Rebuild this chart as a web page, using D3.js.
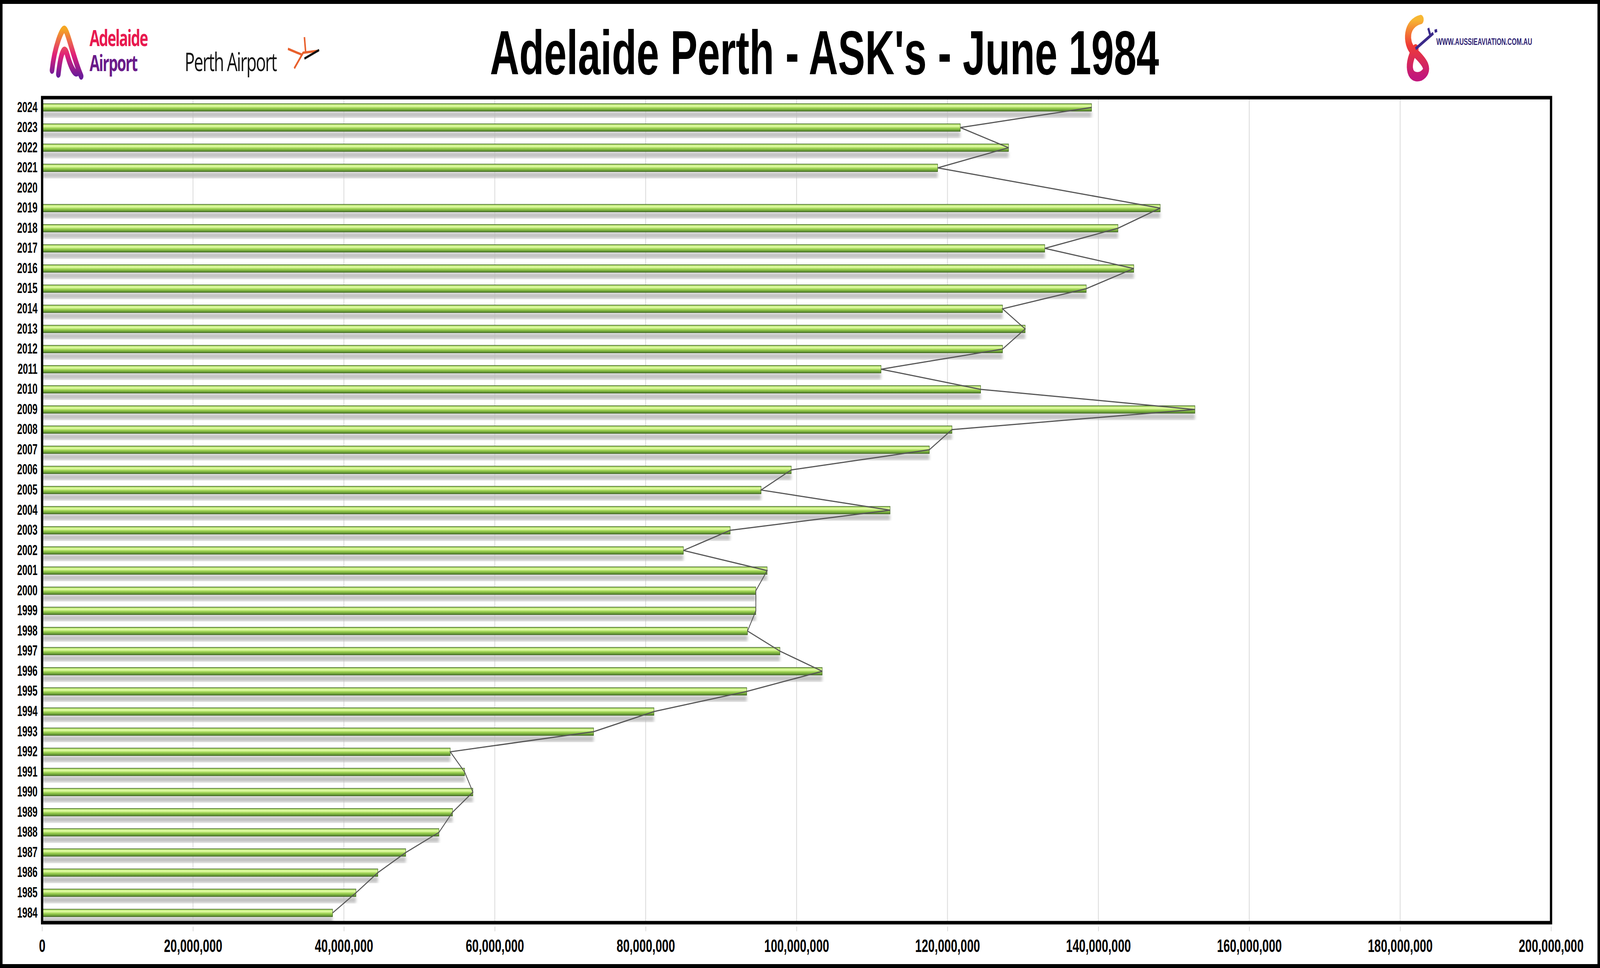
<!DOCTYPE html>
<html><head><meta charset="utf-8">
<script src="https://cdn.jsdelivr.net/npm/d3@7"></script>
<style>html,body{margin:0;padding:0;background:#fff;overflow:hidden}svg{display:block}</style>
</head><body>
<div id="chart"></div>
<script>
const years = d3.range(2024, 1983, -1)
const ask = [139.1, 121.7, 128.1, 118.7, 0, 148.2, 142.6, 132.9, 144.7, 138.4,
  127.3, 130.3, 127.3, 111.2, 124.4, 152.8, 120.6, 117.6, 99.3, 95.3,
  112.4, 91.2, 85.0, 96.1, 94.6, 94.6, 93.5, 97.8, 103.4, 93.4,
  81.1, 73.1, 54.1, 56.0, 57.1, 54.4, 52.6, 48.2, 44.5, 41.6, 38.5].map(v => v * 1e6)
const xTicks = d3.range(0, 200000001, 20000000)
const title = "Adelaide Perth - ASK's - June 1984"

const W = 6307, H = 2478
const plot = { left: 166, right: 6114, top: 250, bottom: 2362 }
const data = years.map((y, i) => ({ year: y, value: ask[i] }))

const svg = d3.select("#chart").append("svg")
  .attr("width", "100vw").attr("height", "100vh")
  .attr("viewBox", `0 0 ${W} ${H}`).attr("preserveAspectRatio", "none")
const defs = svg.append("defs")
const grad = defs.append("linearGradient").attr("id", "bar").attr("x1", 0).attr("y1", 0).attr("x2", 0).attr("y2", 1)
grad.append("stop").attr("offset", "0%").attr("stop-color", "#9fd35a")
grad.append("stop").attr("offset", "30%").attr("stop-color", "#e6ffa8")
grad.append("stop").attr("offset", "60%").attr("stop-color", "#9ad04f")
grad.append("stop").attr("offset", "100%").attr("stop-color", "#4f7f2a")
defs.append("filter").attr("id", "blur").append("feGaussianBlur").attr("stdDeviation", 5)

// outer frame
svg.append("rect").attr("x", 5).attr("y", 5).attr("width", W - 10).attr("height", H - 10)
  .attr("fill", "#fff").attr("stroke", "#000").attr("stroke-width", 10)

const x = d3.scaleLinear().domain([0, 200000000]).range([plot.left, plot.right])
const y = d3.scaleBand().domain(years).range([plot.top, plot.bottom]).paddingInner(0.63).paddingOuter(0.3)

// grid
svg.append("g").selectAll("line").data(xTicks.slice(1, -1)).join("line")
  .attr("x1", d => x(d)).attr("x2", d => x(d)).attr("y1", plot.top).attr("y2", plot.bottom)
  .attr("stroke", "#d9d9d9").attr("stroke-width", 3)

// shadows
svg.append("g").selectAll("rect").data(data.filter(d => d.value > 0)).join("rect")
  .attr("x", plot.left).attr("y", d => y(d.year) + y.bandwidth() + 2)
  .attr("width", d => x(d.value) - plot.left).attr("height", 14)
  .attr("fill", "#bbb").attr("filter", "url(#blur)")

// bars
svg.append("g").selectAll("rect").data(data.filter(d => d.value > 0)).join("rect")
  .attr("x", plot.left).attr("y", d => y(d.year))
  .attr("width", d => x(d.value) - plot.left).attr("height", y.bandwidth())
  .attr("fill", "url(#bar)").attr("stroke", "#3d6020").attr("stroke-width", 1.5)

// connecting line through bar ends (2020 has no value, so it is skipped)
svg.append("path").datum(data.filter(d => d.value > 0))
  .attr("d", d3.line().x(d => x(d.value)).y(d => y(d.year) + y.bandwidth() / 2))
  .attr("fill", "none").attr("stroke", "#555").attr("stroke-width", 3)

// plot frame
svg.append("rect").attr("x", plot.left).attr("y", plot.top)
  .attr("width", plot.right - plot.left).attr("height", plot.bottom - plot.top)
  .attr("fill", "none").attr("stroke", "#000").attr("stroke-width", 9)

// axes
const font = "'Liberation Sans Narrow', 'Arial Narrow', sans-serif"
const yAxis = svg.append("g").attr("transform", `translate(${plot.left - 12},0)`)
  .call(d3.axisLeft(y).tickSize(0).tickPadding(6))
yAxis.select(".domain").remove()
yAxis.selectAll("text").attr("font-family", font).attr("font-weight", "bold")
  .attr("font-size", 36).attr("fill", "#000")

const xAxis = svg.append("g").attr("transform", `translate(0,${plot.bottom + 10})`)
  .call(d3.axisBottom(x).tickValues(xTicks).tickFormat(d3.format(",")).tickSize(12).tickPadding(20))
xAxis.select(".domain").remove()
xAxis.selectAll("line").attr("stroke", "#d9d9d9").attr("stroke-width", 3)
xAxis.selectAll("text").attr("font-family", font).attr("font-weight", "bold")
  .attr("font-size", 46).attr("fill", "#000")

// title
svg.append("text").attr("x", 3250).attr("y", 190).attr("text-anchor", "middle")
  .attr("font-family", font).attr("font-weight", "bold").attr("font-size", 160)
  .attr("fill", "#000").text(title)

// logos (approximate)
const lg = svg.append("g")
const ag = defs.append("linearGradient").attr("id", "adl").attr("x1", 0).attr("y1", 0).attr("x2", 0).attr("y2", 1)
ag.append("stop").attr("offset", "0%").attr("stop-color", "#f5a623")
ag.append("stop").attr("offset", "55%").attr("stop-color", "#e0207a")
ag.append("stop").attr("offset", "100%").attr("stop-color", "#6a1b9a")
lg.append("path").attr("d", "M205,180 C215,120 245,70 255,75 C268,80 290,150 320,195 M230,190 C240,130 255,115 265,140 C280,175 300,200 310,180")
  .attr("fill", "none").attr("stroke", "url(#adl)").attr("stroke-width", 18).attr("stroke-linecap", "round")
lg.append("text").attr("x", 353).attr("y", 118).attr("font-family", "'Open Sans', sans-serif")
  .attr("font-weight", "bold").attr("font-size", 58).attr("fill", "#e8194f").attr("letter-spacing", -3).text("Adelaide")
lg.append("text").attr("x", 353).attr("y", 182).attr("font-family", "'Open Sans', sans-serif")
  .attr("font-weight", "bold").attr("font-size", 58).attr("fill", "#6a1b8a").attr("letter-spacing", -3).text("Airport")
lg.append("text").attr("x", 728).attr("y", 182).attr("font-family", "'Open Sans', sans-serif")
  .attr("font-size", 66).attr("fill", "#111").attr("letter-spacing", -3).text("Perth Airport")
lg.append("path").attr("d", "M1160,175 L1195,135 L1255,130 M1200,95 L1205,135 M1135,125 L1190,140")
  .attr("fill", "none").attr("stroke", "#e8602c").attr("stroke-width", 6)
lg.append("path").attr("d", "M1200,150 L1258,128").attr("stroke", "#111").attr("stroke-width", 6)

const ag2 = defs.append("linearGradient").attr("id", "au").attr("x1", 0).attr("y1", 0).attr("x2", 0).attr("y2", 1)
ag2.append("stop").attr("offset", "0%").attr("stop-color", "#f7b733")
ag2.append("stop").attr("offset", "45%").attr("stop-color", "#ef3b36")
ag2.append("stop").attr("offset", "100%").attr("stop-color", "#c2187c")
lg.append("path").attr("d", "M5600,50 C5540,60 5540,110 5570,130 C5620,160 5640,180 5600,195 C5550,205 5545,160 5580,125")
  .attr("fill", "none").attr("stroke", "url(#au)").attr("stroke-width", 24).attr("stroke-linecap", "round")
lg.append("path").attr("d", "M5580,125 L5650,85 M5630,72 L5640,95 M5655,80 L5665,78")
  .attr("fill", "none").attr("stroke", "#3b2a8a").attr("stroke-width", 8)
lg.append("text").attr("x", 5662).attr("y", 115).attr("font-family", font).attr("font-weight", "bold")
  .attr("font-size", 24).attr("fill", "#2e2373").text("WWW.AUSSIEAVIATION.COM.AU")
</script>
</body></html>
